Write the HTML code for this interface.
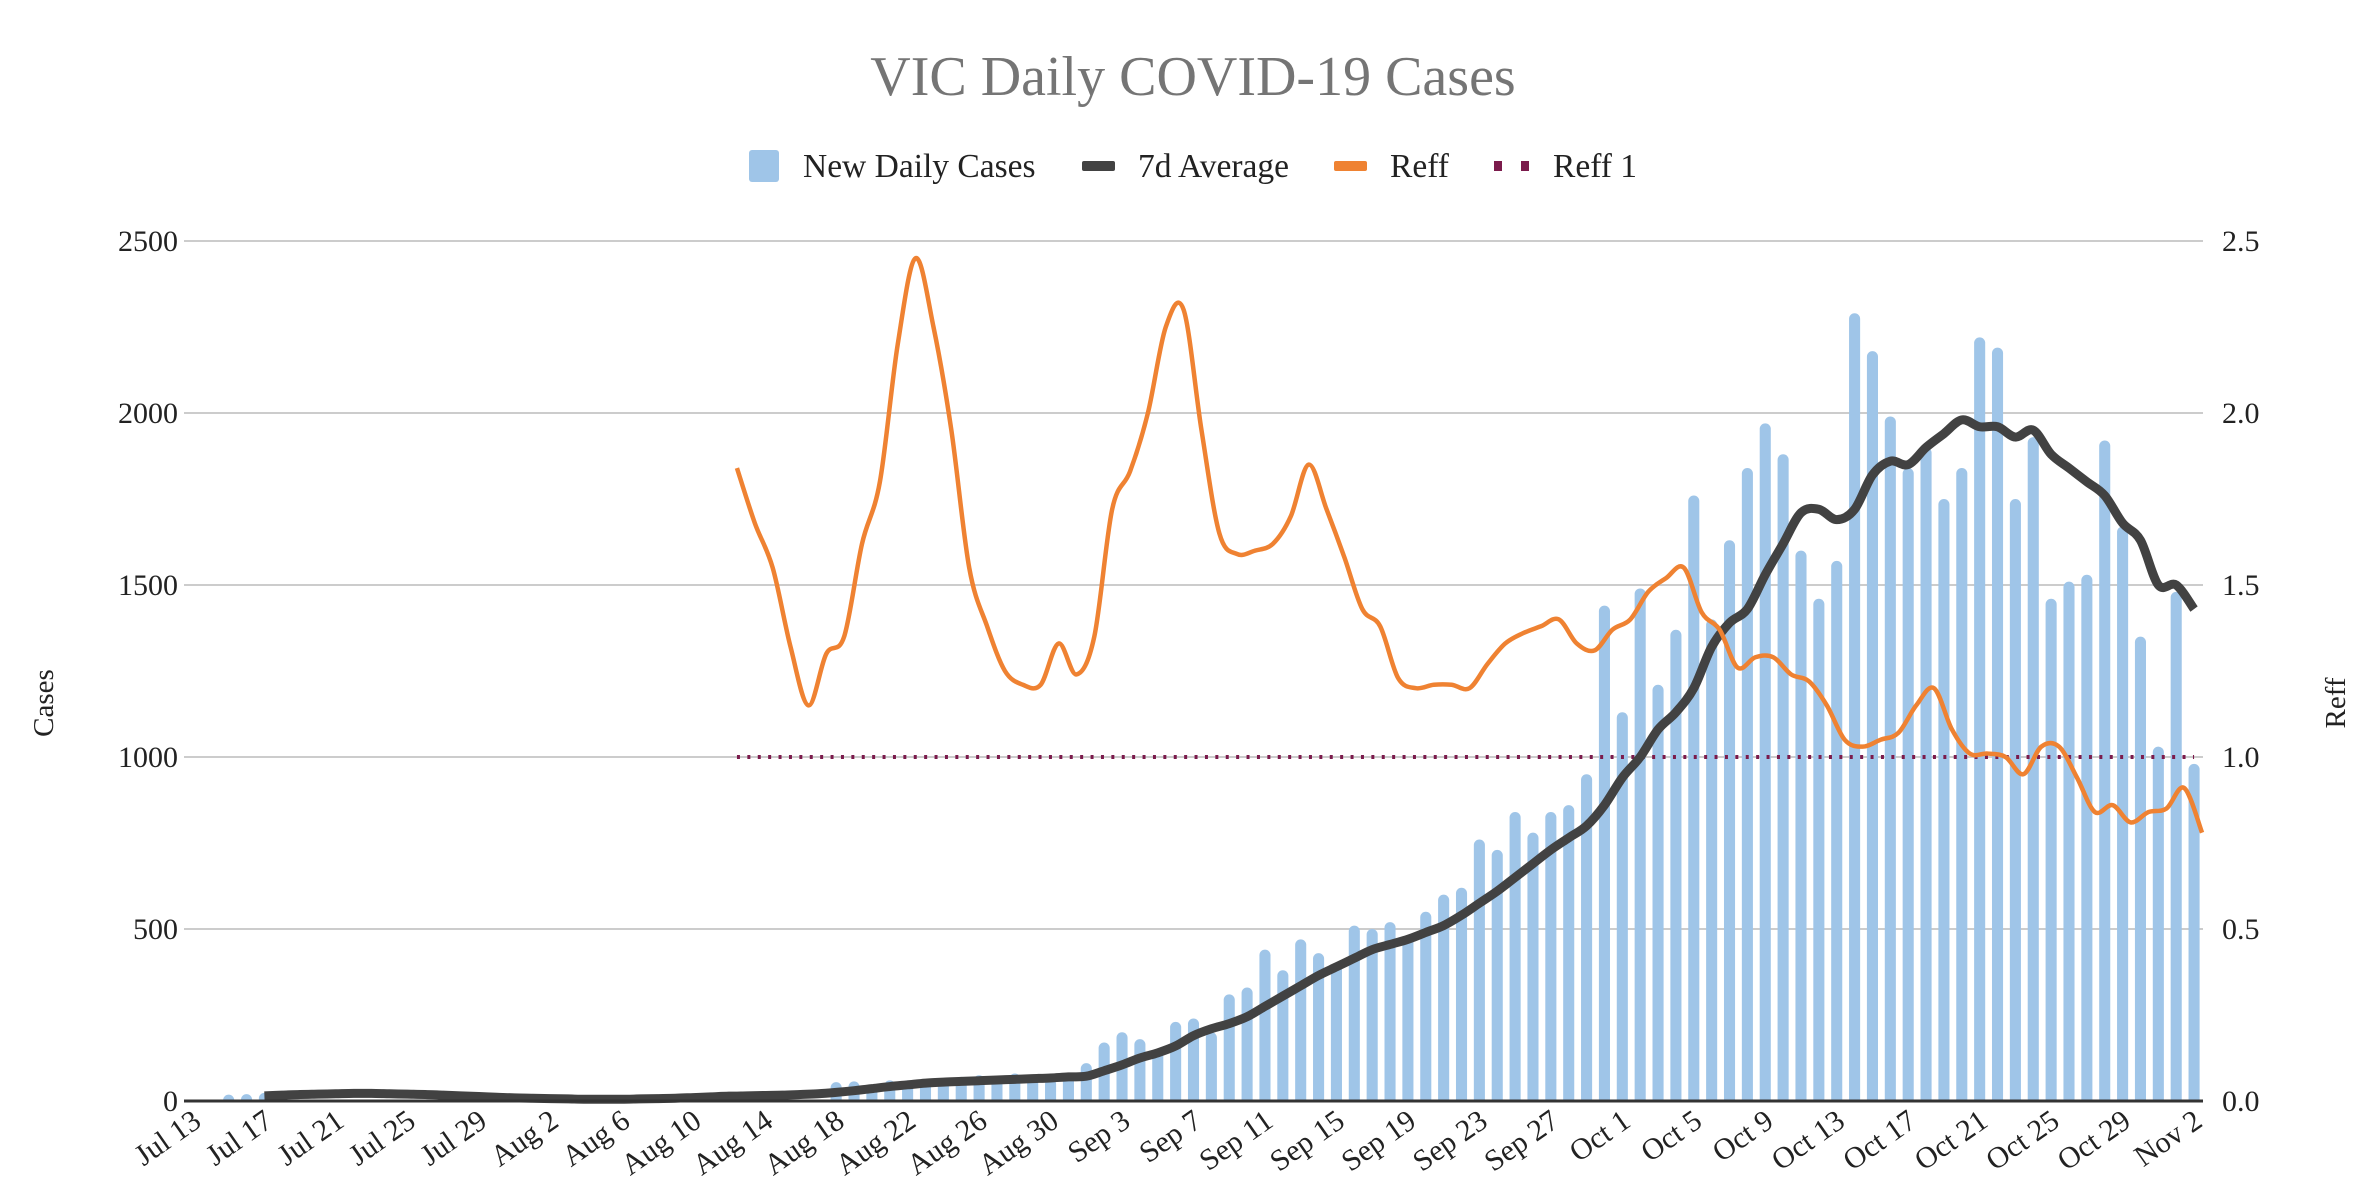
<!DOCTYPE html>
<html><head><meta charset="utf-8"><style>
html,body{margin:0;padding:0;background:#fff;}
svg{display:block;font-family:"Liberation Serif",serif;}
</style></head><body>
<svg id="chart" width="2363" height="1203" viewBox="0 0 2363 1203" xmlns="http://www.w3.org/2000/svg">
<text x="1193" y="95" text-anchor="middle" font-size="56" fill="#757575">VIC Daily COVID-19 Cases</text>
<g>
<g><rect x="749" y="150" width="30" height="32" rx="3" fill="#9fc5e8"/><text x="803" y="177" font-size="33.5" fill="#222">New Daily Cases</text></g>
<g><rect x="1082" y="161" width="33" height="10" rx="2" fill="#424242"/><text x="1138" y="177" font-size="33.5" fill="#222">7d Average</text></g>
<g><rect x="1334" y="161" width="33" height="10" rx="2" fill="#ef8232"/><text x="1390" y="177" font-size="33.5" fill="#222">Reff</text></g>
<g><rect x="1494" y="161" width="8" height="10" fill="#7b1b4c"/><rect x="1521" y="161" width="8" height="10" fill="#7b1b4c"/><text x="1553" y="177" font-size="33.5" fill="#222">Reff 1</text></g>
</g>
<text transform="translate(53,703) rotate(-90)" text-anchor="middle" font-size="29" fill="#222">Cases</text>
<text transform="translate(2345,703) rotate(-90)" text-anchor="middle" font-size="29" fill="#222">Reff</text>
<g id="grid"></g><g id="bars"></g><g id="lines"></g><g id="axes"></g>
</svg>
<script>
const startDate = [2021, 7, 13];
const dayCount = 113;
const newCases = [0,0,5,8,15,0,0,0,0,0,0,0,0,0,0,0,0,0,0,0,0,0,0,0,0,0,0,0,0,0,0,0,0,0,0,0,
55,57,40,60,60,55,65,70,75,70,80,75,65,80,110,
170,200,180,150,230,240,200,310,330,440,380,470,430,400,510,500,520,480,550,600,620,760,730,840,780,840,860,950,1440,1130,1490,1210,1370,1760,1400,1630,1840,1970,1880,1600,1460,1570,2290,2180,1990,1840,1900,1750,1840,2220,2190,1750,1930,1460,1510,1530,1920,1670,1350,1030,1480,980];
const avgStart = 4;
const avg7d = [15,17,19,20,21,22,22,21,20,19,17,15,13,11,9,8,7,6,5,5,5,6,7,8,10,12,14,15,16,17,19,21,25,30,36,42,47,52,55,57,59,61,63,65,67,70,72,88,105,125,140,160,190,210,225,245,275,305,335,365,390,415,440,455,470,490,510,540,575,610,650,690,730,765,800,860,940,1000,1080,1130,1200,1320,1390,1430,1530,1620,1710,1720,1690,1720,1820,1860,1850,1900,1940,1980,1960,1960,1930,1950,1880,1840,1800,1760,1680,1630,1500,1500,1430];
const reffStart = 30;
const reff = [1.84,1.68,1.55,1.32,1.15,1.30,1.35,1.62,1.80,2.2,2.45,2.25,1.95,1.55,1.38,1.25,1.21,1.21,1.33,1.24,1.35,1.72,1.83,2.0,2.25,2.30,1.95,1.65,1.59,1.60,1.62,1.70,1.85,1.72,1.58,1.43,1.38,1.23,1.20,1.21,1.21,1.20,1.27,1.33,1.36,1.38,1.40,1.33,1.31,1.37,1.40,1.48,1.52,1.55,1.42,1.37,1.26,1.29,1.29,1.24,1.22,1.15,1.05,1.03,1.05,1.07,1.15,1.20,1.08,1.01,1.01,1.00,0.95,1.03,1.03,0.94,0.84,0.86,0.81,0.84,0.85,0.91,0.78];
const reffRefValue = 1.0;
const leftTicks = [0,500,1000,1500,2000,2500];
const rightTicks = ["0.0","0.5","1.0","1.5","2.0","2.5"];
const months = ["Jan","Feb","Mar","Apr","May","Jun","Jul","Aug","Sep","Oct","Nov","Dec"];

const NS = "http://www.w3.org/2000/svg";
const L = 184, R = 2203, T = 241, B = 1101;
const band = (R - L) / dayCount;
const x = i => L + band * (i + 0.5);
const y = v => B - (v / 2500) * (B - T);
const y2 = v => B - (v / 2.5) * (B - T);
function mk(tag, attrs, parent){const e=document.createElementNS(NS,tag);for(const k in attrs)e.setAttribute(k,attrs[k]);parent.appendChild(e);return e;}
const grid = document.getElementById('grid'), bars = document.getElementById('bars'), lines = document.getElementById('lines'), axes = document.getElementById('axes');

leftTicks.forEach((t,k)=>{
  if(t>0){const g=mk('line',{x1:L,x2:R,y1:y(t),y2:y(t),stroke:'#cccccc','stroke-width':2},grid);
  
  }
  const lt=mk('text',{x:178,y:y(t)+10,'text-anchor':'end','font-size':30,fill:'#222'},axes);
  lt.textContent=t;
  
  
  const rt=mk('text',{x:2222,y:y2(+rightTicks[k])+10,'font-size':30,fill:'#222'},axes);
  rt.textContent=rightTicks[k];
  
  
});

const bw = band*0.62;
newCases.forEach((v,i)=>{
  if(v<=0) return;
  const h=B-y(v), r=Math.min(bw/2,h/2);
  const x0=x(i)-bw/2, top=y(v);
  const p=mk('path',{d:`M${x0},${B}V${top+r}A${r},${r} 0 0 1 ${x0+bw},${top+r}V${B}Z`,fill:'#9fc5e8'},bars);
  
  
});

const axisLine=mk('line',{x1:L,x2:R,y1:B,y2:B,stroke:'#333','stroke-width':3},axes);



function smooth(pts){
  let d=`M${pts[0][0]},${pts[0][1]}`;
  for(let i=0;i<pts.length-1;i++){
    const p0=pts[i-1]||pts[i],p1=pts[i],p2=pts[i+1],p3=pts[i+2]||p2;
    const c1=[p1[0]+(p2[0]-p0[0])/6,p1[1]+(p2[1]-p0[1])/6];
    const c2=[p2[0]-(p3[0]-p1[0])/6,p2[1]-(p3[1]-p1[1])/6];
    d+=`C${c1[0]},${c1[1]} ${c2[0]},${c2[1]} ${p2[0]},${p2[1]}`;
  }
  return d;
}
const refLine=mk('line',{x1:x(reffStart)+8,x2:x(dayCount-1),y1:y2(reffRefValue),y2:y2(reffRefValue),stroke:'#7b1b4c','stroke-width':4,'stroke-dasharray':'3 7.4'},lines);



const avgPath=mk('path',{d:smooth(avg7d.map((v,k)=>[x(avgStart+k),y(v)])),fill:'none',stroke:'#424242','stroke-width':9,'stroke-linejoin':'round','stroke-linecap':'butt'},lines);



const reffPath=mk('path',{d:smooth(reff.map((v,k)=>[x(reffStart+k)+8,y2(v)])),fill:'none',stroke:'#ef8232','stroke-width':4.5,'stroke-linejoin':'round'},lines);



for(let i=0;i<dayCount;i+=4){
  const d=new Date(startDate[0],startDate[1]-1,startDate[2]+i);
  const label=months[d.getMonth()]+' '+d.getDate();
  const tx=x(i)+10, ty=B+24;
  const t=mk('text',{x:tx,y:ty,'text-anchor':'end','font-size':30,fill:'#222',transform:`rotate(-35 ${tx} ${ty})`},axes);
  t.textContent=label;
  
  
}
</script>
</body></html>
